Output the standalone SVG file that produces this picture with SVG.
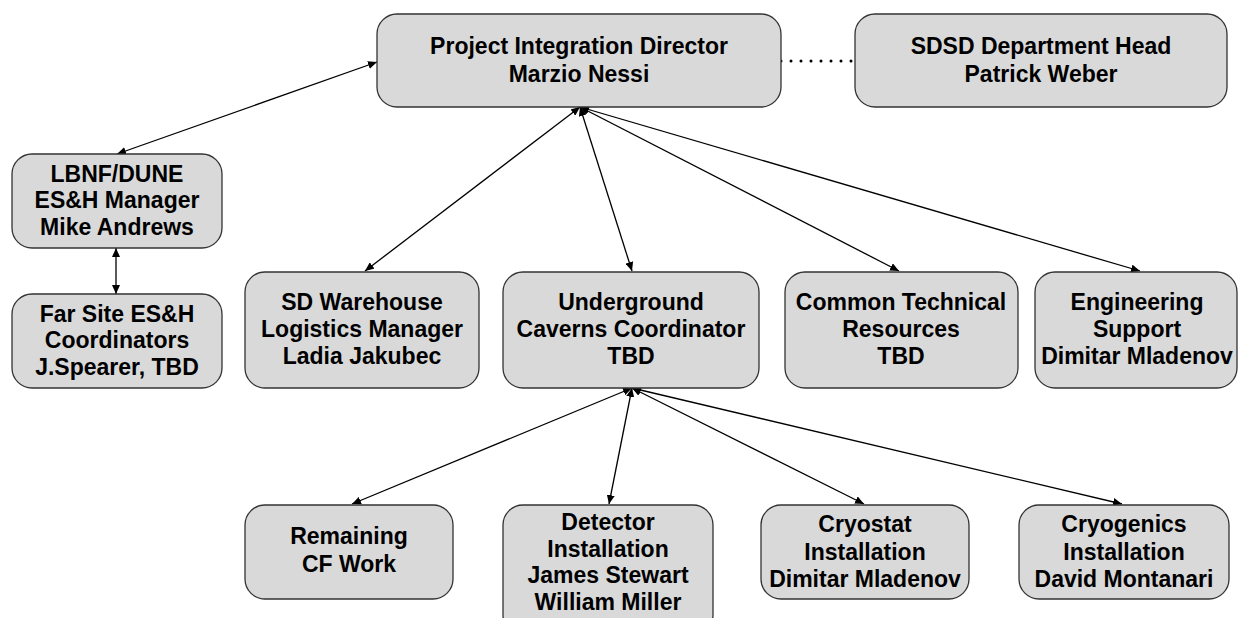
<svg xmlns="http://www.w3.org/2000/svg" width="1238" height="618" viewBox="0 0 1238 618">
<style>
.box{fill:#d9d9d9;stroke:#333;stroke-width:1.3}
.t{font-family:"Liberation Sans",Arial,sans-serif;font-weight:bold;font-size:23px;fill:#000;text-anchor:middle}
.c{stroke:#000;stroke-width:1.3;fill:none;marker-start:url(#a);marker-end:url(#a)}
.dot{stroke:#000;stroke-width:3;stroke-linecap:round;stroke-dasharray:0 10;fill:none}
</style>
<defs>
<marker id="a" markerUnits="userSpaceOnUse" markerWidth="10" markerHeight="8" refX="9" refY="4" orient="auto-start-reverse">
<path d="M0,0 L9,4 L0,8 Z" fill="#000"/>
</marker>
</defs>
<rect width="1238" height="618" fill="#fff"/>
<g id="connectors">
<line class="c" x1="377" y1="62" x2="117" y2="154"/>
<line class="c" x1="580" y1="107" x2="365" y2="271"/>
<line class="c" x1="580" y1="107" x2="632" y2="271"/>
<line class="c" x1="580" y1="107" x2="899" y2="271"/>
<line class="c" x1="580" y1="107" x2="1140" y2="271"/>
<line class="c" x1="116" y1="248" x2="116" y2="294"/>
<line class="c" x1="632" y1="388" x2="352" y2="504"/>
<line class="c" x1="632" y1="388" x2="609" y2="504"/>
<line class="c" x1="632" y1="388" x2="864" y2="504"/>
<line class="c" x1="632" y1="388" x2="1122" y2="504"/>
<line class="dot" x1="781" y1="61" x2="852" y2="61"/>
</g>
<g id="pid">
<rect class="box" x="377" y="14" width="404" height="93" rx="20"/>
<text class="t" x="579" y="54">Project Integration Director</text>
<text class="t" x="579" y="82">Marzio Nessi</text>
</g>
<g id="sdsd">
<rect class="box" x="855" y="14" width="372" height="93" rx="20"/>
<text class="t" x="1041" y="54">SDSD Department Head</text>
<text class="t" x="1041" y="82">Patrick Weber</text>
</g>
<g id="esh">
<rect class="box" x="12" y="154" width="210" height="94" rx="20"/>
<text class="t" x="117" y="182">LBNF/DUNE</text>
<text class="t" x="117" y="208">ES&amp;H Manager</text>
<text class="t" x="117" y="235">Mike Andrews</text>
</g>
<g id="farsite">
<rect class="box" x="12" y="294" width="210" height="94" rx="20"/>
<text class="t" x="117" y="322">Far Site ES&amp;H</text>
<text class="t" x="117" y="348">Coordinators</text>
<text class="t" x="117" y="375">J.Spearer, TBD</text>
</g>
<g id="warehouse">
<rect class="box" x="245" y="272" width="234" height="116" rx="20"/>
<text class="t" x="362" y="310">SD Warehouse</text>
<text class="t" x="362" y="337">Logistics Manager</text>
<text class="t" x="362" y="364">Ladia Jakubec</text>
</g>
<g id="underground">
<rect class="box" x="503" y="272" width="256" height="116" rx="20"/>
<text class="t" x="631" y="310">Underground</text>
<text class="t" x="631" y="337">Caverns Coordinator</text>
<text class="t" x="631" y="364">TBD</text>
</g>
<g id="common">
<rect class="box" x="785" y="272" width="233" height="116" rx="20"/>
<text class="t" x="901" y="310">Common Technical</text>
<text class="t" x="901" y="337">Resources</text>
<text class="t" x="901" y="364">TBD</text>
</g>
<g id="engineering">
<rect class="box" x="1035" y="272" width="202" height="116" rx="20"/>
<text class="t" x="1137" y="310">Engineering</text>
<text class="t" x="1137" y="337">Support</text>
<text class="t" x="1137" y="364">Dimitar Mladenov</text>
</g>
<g id="remaining">
<rect class="box" x="245" y="505" width="208" height="94" rx="20"/>
<text class="t" x="349" y="544">Remaining</text>
<text class="t" x="349" y="572">CF Work</text>
</g>
<g id="detector">
<rect class="box" x="503" y="505" width="210" height="130" rx="20"/>
<text class="t" x="608" y="530">Detector</text>
<text class="t" x="608" y="557">Installation</text>
<text class="t" x="608" y="583">James Stewart</text>
<text class="t" x="608" y="610">William Miller</text>
</g>
<g id="cryostat">
<rect class="box" x="761" y="505" width="208" height="94" rx="20"/>
<text class="t" x="865" y="532">Cryostat</text>
<text class="t" x="865" y="560">Installation</text>
<text class="t" x="865" y="587">Dimitar Mladenov</text>
</g>
<g id="cryogenics">
<rect class="box" x="1019" y="505" width="210" height="94" rx="20"/>
<text class="t" x="1124" y="532">Cryogenics</text>
<text class="t" x="1124" y="560">Installation</text>
<text class="t" x="1124" y="587">David Montanari</text>
</g>
</svg>
